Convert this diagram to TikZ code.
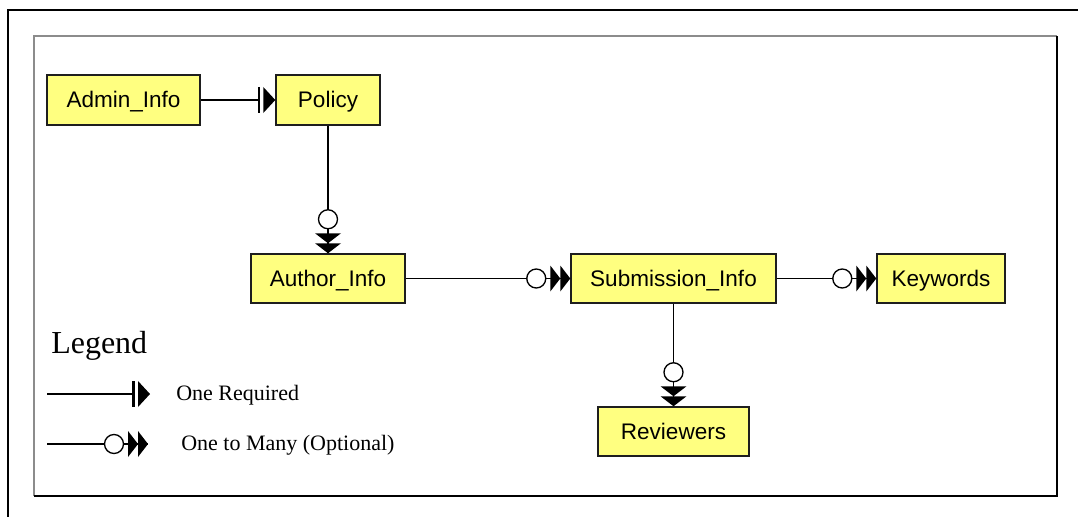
\documentclass[tikz,border=0pt]{standalone}
\usepackage{fontspec}
\setmainfont{Liberation Serif}
\newfontfamily\boxfont{Liberation Sans}
\definecolor{boxyellow}{RGB}{255,255,128}
\definecolor{boxline}{RGB}{30,30,30}
\tikzset{
  entity/.style={draw=boxline, line width=1.1pt, fill=boxyellow, inner sep=0pt,
    text height=12pt, text depth=0pt,
    font=\boxfont\fontsize{16.9}{19}\selectfont},
  conn/.style={line width=1pt},
  reqline/.style={conn, shorten >=12.4pt},
  onemany/.pic={
    \fill (-20,-13) -- (-10,0) -- (-20,13) -- cycle;
    \fill (-10,-13) -- (0,0) -- (-10,13) -- cycle;
    \draw[line width=1pt, fill=white] (-34,0) circle (9.5);
  },
  onereq/.pic={
    \fill (-12,-13) -- (0,0) -- (-12,13) -- cycle;
    \draw[line width=1.6pt] (-16.5,-13) -- (-16.5,13);
  },
  legtext/.style={anchor=west, inner sep=0pt, font=\fontsize{16.5}{19}\selectfont},
}
\begin{document}
\begin{tikzpicture}[x=0.75pt, y=-0.75pt]
\useasboundingbox (0,0) rectangle (1078,517);
% outer frame (cut by the page)
\draw[line width=1.6pt] (8,517) -- (8,10) -- (1078,10);
% inner frame
\draw[line width=1pt, draw=black!45] (34,496) -- (34,36) -- (1057,36);
\draw[line width=1.2pt] (34,496) -- (1057,496) -- (1057,36);

% entities
\node[entity, minimum width=114.75pt, minimum height=37.5pt] (admin) at (123.5,100) {Admin\_Info};
\node[entity, minimum width=78pt, minimum height=37.5pt] (policy) at (328,100) {Policy};
\node[entity, minimum width=115.5pt, minimum height=36.75pt] (author) at (328,278.5) {Author\_Info};
\node[entity, minimum width=153.75pt, minimum height=36.75pt] (submission) at (673.5,278.5) {Submission\_Info};
\node[entity, minimum width=96pt, minimum height=36.75pt] (keywords) at (941,278.5) {Keywords};
\node[entity, minimum width=113.25pt, minimum height=36.75pt] (reviewers) at (673.5,431.5) {Reviewers};

% connectors
\draw[reqline] (admin.east) -- (policy.west);
\pic at (policy.west) {onereq};
\draw[conn] (policy.south) -- (author.north);
\pic[rotate=-90] at (author.north) {onemany};
\draw[conn] (author.east) -- (submission.west);
\pic at (submission.west) {onemany};
\draw[conn] (submission.east) -- (keywords.west);
\pic at (keywords.west) {onemany};
\draw[conn] (submission.south) -- (reviewers.north);
\pic[rotate=-90] at (reviewers.north) {onemany};

% legend
\node[anchor=west, inner sep=0pt, font=\fontsize{24}{28}\selectfont] (legend) at (51,346) {Legend};
\coordinate (l1a) at (47,394);
\coordinate (l1b) at (150,394);
\draw[reqline] (l1a) -- (l1b);
\pic at (l1b) {onereq};
\node[legtext] (l1t) at (176,395) {One Required};
\coordinate (l2a) at (47,444);
\coordinate (l2b) at (148,444);
\draw[conn] (l2a) -- (l2b);
\pic at (l2b) {onemany};
\node[legtext] (l2t) at (181,445) {One to Many (Optional)};
\end{tikzpicture}
\end{document}
